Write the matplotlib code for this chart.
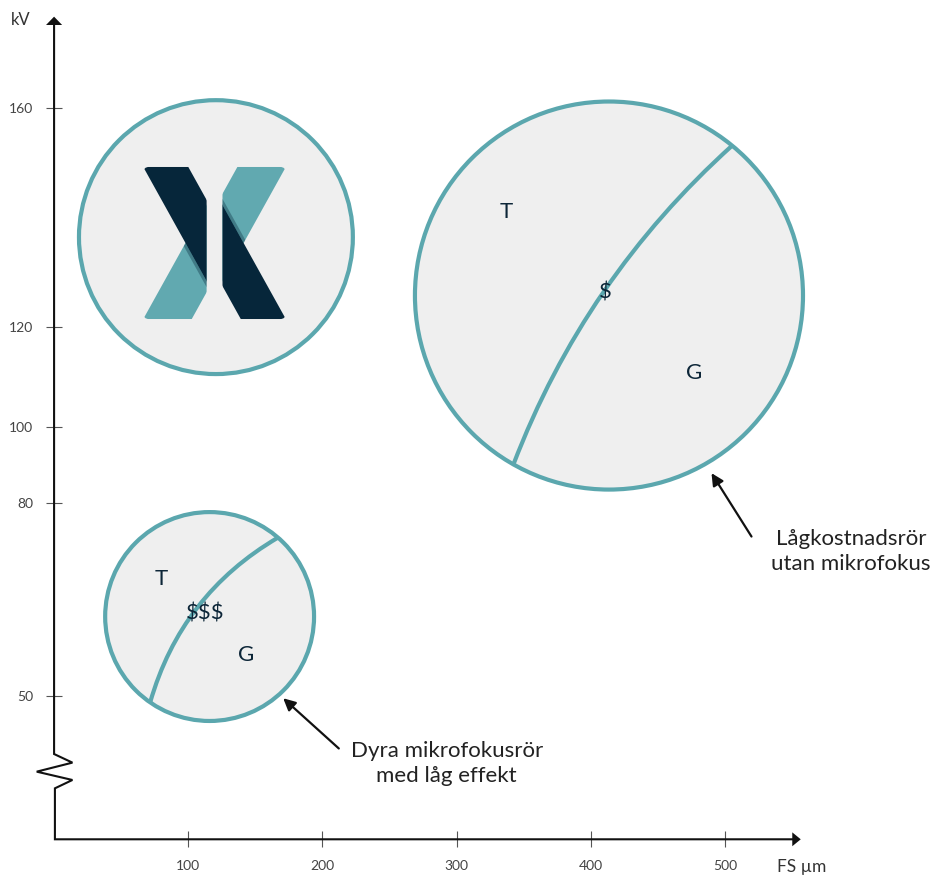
import numpy as np
import matplotlib
matplotlib.use('Agg')
import matplotlib.pyplot as plt
from matplotlib import patches, transforms
from matplotlib.path import Path

plt.rcParams['font.family'] = ['Lato', 'DejaVu Sans']

# ---------------- data ----------------
fs_ticks = [100, 200, 300, 400, 500]
kv_ticks = [50, 80, 100, 120, 160]

# bubbles: logo, low-cost tubes, micro-focus tubes
bubble_fs = [120.6, 413.5, 115.9]
bubble_kv = [136.4, 125.7, 62.4]
bubble_r = [98.6, 139.7, 75.2]      # radius in points

lowcost_labels = ['T', '$', 'G']
micro_labels = ['T', '$$$', 'G']
lowcost_note = 'Lågkostnadsrör\nutan mikrofokus'
micro_note = 'Dyra mikrofokusrör\nmed låg effekt'

# the kV axis is not linear: kV value -> height (fraction of figure)
kv_knots = [-50, 0, 50, 80, 100, 120, 160, 200]
kv_frac = [-0.1213, 0.0419, 0.2051, 0.4255, 0.5122, 0.6271, 0.8764, 1.1257]
kv_floor = 0

# ---------------- style ----------------
ring = '#5ba7ae'
fill = '#efefef'
ink = '#0d2638'
navy = '#06263a'
teal = '#61a9b0'


def fwd(v):
    return np.interp(v, kv_knots, kv_frac)


def inv(f):
    return np.interp(f, kv_frac, kv_knots)


fig = plt.figure(figsize=(9.36, 8.76), dpi=100)
ax = fig.add_axes([0, 0, 1, 1])
ax.set_yscale('function', functions=(fwd, inv))
ax.set_xlim(-40.3, 657.2)
ax.set_ylim(inv(0.0), inv(1.0))

ax.set_xticks(fs_ticks)
ax.set_yticks(kv_ticks)
ax.spines['left'].set_position(('data', 0))
ax.spines['bottom'].set_position(('data', kv_floor))
for s in ax.spines.values():
    s.set_visible(False)
ax.tick_params(direction='inout', length=11.5, width=0.8, color='#555',
               labelsize=10, labelcolor='#444', pad=9.5)
ax.patch.set_alpha(0)


def local(i):
    # unit circle coordinates of bubble i
    return (transforms.Affine2D().scale(bubble_r[i] / 72)
            + fig.dpi_scale_trans
            + transforms.ScaledTranslation(bubble_fs[i], bubble_kv[i], ax.transData))


# axis lines with the break (offsets in points from the origin)
org = (transforms.Affine2D().scale(1 / 72) + fig.dpi_scale_trans
       + transforms.ScaledTranslation(0, kv_floor, ax.transData))
zig = [(0, 586.3), (0, 61.4), (13.2, 55.2), (-12.5, 48.7), (13.2, 42.7),
       (0.6, 36.7), (0.6, 0), (531.5, 0)]
ax.plot(*zip(*zig), color='#111', lw=1.5, transform=org, clip_on=False,
        solid_joinstyle='miter')
ax.add_patch(patches.Polygon([(-5.8, 586.3), (5.8, 586.3), (0, 592.3)],
                             closed=True, fc='#111', ec='none', transform=org))
ax.add_patch(patches.Polygon([(531.5, -5), (531.5, 5), (537.6, 0)],
                             closed=True, fc='#111', ec='none', transform=org))

fig.text(21 / 936, 1 - 20 / 876, 'kV', fontsize=12, ha='center', va='center', color='#333')
fig.text(776.7 / 936, 1 - 866.7 / 876, 'FS µm', fontsize=12.5, ha='left', va='center',
         color='#333')


def bubble(i):
    tr = local(i)
    ax.add_patch(patches.Circle((0, 0), 1, transform=tr, fc=fill, ec=ring, lw=3,
                                zorder=2, clip_on=False))
    return tr


def arc(tr, a0, a1, bulge):
    p0 = np.array([np.cos(np.radians(a0)), np.sin(np.radians(a0))])
    p2 = np.array([np.cos(np.radians(a1)), np.sin(np.radians(a1))])
    d = p2 - p0
    n = np.array([-d[1], d[0]]) / np.hypot(*d)
    p1 = (p0 + p2) / 2 + 2 * bulge * n
    path = Path([p0, p1, p2], [Path.MOVETO, Path.CURVE3, Path.CURVE3])
    ax.add_patch(patches.PathPatch(path, transform=tr, fc='none', ec=ring, lw=3,
                                   zorder=3, clip_on=False))


def labels(tr, texts, spots):
    for t, (u, v) in zip(texts, spots):
        ax.text(u, v, t, transform=tr, ha='center', va='center', fontsize=16,
                color=ink, zorder=4)


def note(tr, text, spot, tip, tail):
    ax.text(spot[0], spot[1], text, transform=tr, ha='center', va='center',
            fontsize=16, color='#222', linespacing=1.3, zorder=4)
    a = np.radians(tip[1])
    b = np.radians(tail[1])
    ax.annotate('', xy=(tip[0] * np.cos(a), tip[0] * np.sin(a)), xycoords=tr,
                xytext=(tail[0] * np.cos(b), tail[0] * np.sin(b)), textcoords=tr,
                arrowprops=dict(arrowstyle='-|>', mutation_scale=18, lw=1.6,
                                color='#111', shrinkA=0, shrinkB=0))


def logo(tr):
    k = 1.8
    cu, cv = -0.010, -0.043
    u0, u1, v0, v1 = -0.531, -0.068, -0.599, 0.513
    dark = [(u0, v1), (-0.202, v1), (-0.202 + 0.8, v1 - 0.8 * k), (u0 + 0.8, v1 - 0.8 * k)]
    light = [(u0, v0), (-0.177, v0), (-0.177 + 0.8, v0 + 0.8 * k), (u0 + 0.8, v0 + 0.8 * k)]
    edge = lambda u: v1 - k * (u - u0)
    shade = [(-0.32, edge(-0.32)), (u1, edge(u1)), (u1, edge(u1) - 0.045),
             (-0.32, edge(-0.32) - 0.045)]

    def flip(pts):
        return [(2 * cu - u, 2 * cv - v) for u, v in pts]

    for side in (0, 1):
        f = (lambda p: p) if side == 0 else flip
        if side == 0:
            box = patches.FancyBboxPatch((u0, v0), u1 - u0, v1 - v0,
                                         boxstyle='round,pad=0,rounding_size=0.045',
                                         transform=tr)
        else:
            box = patches.FancyBboxPatch((2 * cu - u1, 2 * cv - v1), u1 - u0, v1 - v0,
                                         boxstyle='round,pad=0,rounding_size=0.045',
                                         transform=tr)
        p_light = patches.Polygon(f(light), closed=True, fc=teal, ec='none',
                                  transform=tr, zorder=3)
        ax.add_patch(p_light)
        p_light.set_clip_path(box)
        p_shade = patches.Polygon(f(shade), closed=True, fc=navy, ec='none', alpha=0.35,
                                  transform=tr, zorder=3)
        ax.add_patch(p_shade)
        p_shade.set_clip_path(patches.Polygon(f(light), closed=True, transform=tr))
        p_dark = patches.Polygon(f(dark), closed=True, fc=navy, ec='none',
                                 transform=tr, zorder=3)
        ax.add_patch(p_dark)
        p_dark.set_clip_path(box)


# logo bubble
tr = bubble(0)
logo(tr)

# low-cost tubes without micro focus
tr = bubble(1)
arc(tr, -119.5, 50.6, 0.12)
labels(tr, lowcost_labels, [(-0.527, 0.433), (-0.021, 0.014), (0.438, -0.398)])
note(tr, lowcost_note, (1.247, -1.321), (1.057, -60), (1.443, -59.4))

# expensive micro-focus tubes
tr = bubble(2)
arc(tr, -124.7, 49.1, 0.2)
labels(tr, micro_labels, [(-0.459, 0.357), (-0.045, 0.029), (0.354, -0.370)])
note(tr, micro_note, (2.271, -1.404), (1.053, -48), (1.768, -45.6))

fig.savefig('out.png', dpi=100)
